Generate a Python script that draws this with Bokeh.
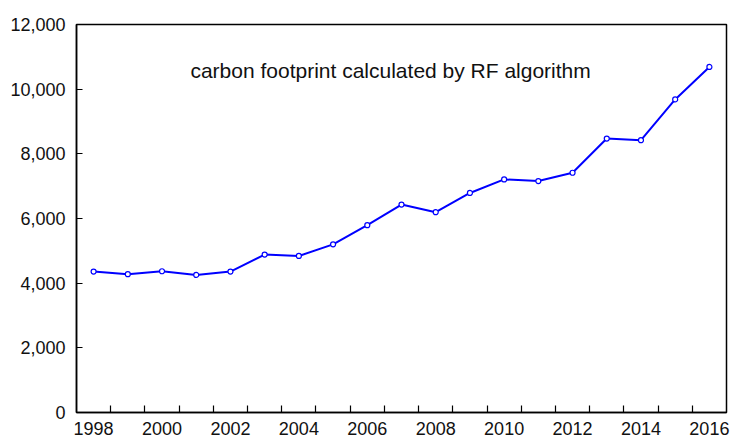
from bokeh.plotting import figure
from bokeh.models import FixedTicker, NumeralTickFormatter, Range1d, Label
from bokeh.embed import file_html
from bokeh.resources import INLINE

years = list(range(1998, 2017))
footprint = [4360, 4277, 4369, 4256, 4360, 4883, 4841, 5200, 5795, 6431,
             6195, 6790, 7210, 7159, 7415, 8472, 8421, 9683, 10687]
x_labels = list(range(1998, 2017, 2))
y_ticks = list(range(0, 12001, 2000))
year_bounds = [y + 0.5 for y in range(1998, 2016)]
series_name = "carbon footprint calculated by RF algorithm"

FONT = "Liberation Sans"

p = figure(width=730, height=437, output_backend="svg", toolbar_location=None,
           x_range=Range1d(1997.5, 2016.5), y_range=Range1d(0, 12000),
           min_border_left=76, min_border_right=4, min_border_top=24, min_border_bottom=23)

p.xgrid.visible = False
p.ygrid.visible = False
p.outline_line_color = "black"
p.outline_line_width = 1.5
p.outline_line_alpha = 1.0
p.background_fill_color = "white"
p.border_fill_color = "white"

p.line(years, footprint, line_color="#0000FF", line_width=2)
p.scatter(years, footprint, size=5, marker="circle", line_color="#0000FF",
          fill_color="white", line_width=1.2)

# x axis
xa = p.xaxis[0]
xa.ticker = FixedTicker(ticks=x_labels, minor_ticks=year_bounds)
xa.major_tick_in = 0
xa.major_tick_out = 0
xa.minor_tick_in = 7
xa.minor_tick_out = 0
xa.minor_tick_line_color = "black"
xa.minor_tick_line_width = 1.2
xa.axis_line_color = "black"
xa.axis_line_width = 1.5
xa.major_label_text_font = FONT
xa.major_label_text_font_size = "18px"
xa.major_label_text_color = "#111111"
xa.major_label_standoff = 9

# y axis
ya = p.yaxis[0]
ya.ticker = FixedTicker(ticks=y_ticks, minor_ticks=[])
ya.formatter = NumeralTickFormatter(format="0,0")
ya.major_tick_in = 6
ya.major_tick_out = 0
ya.minor_tick_in = 0
ya.minor_tick_out = 0
ya.major_tick_line_color = "black"
ya.major_tick_line_width = 1.2
ya.axis_line_color = "black"
ya.axis_line_width = 1.5
ya.major_label_text_font = FONT
ya.major_label_text_font_size = "18px"
ya.major_label_text_color = "#111111"
ya.major_label_standoff = 11

lbl = Label(x=2000.83, y=10585, text=series_name, text_font=FONT,
            text_font_size="21px", text_color="#111111",
            text_align="left", text_baseline="alphabetic")
p.add_layout(lbl)

open("out.html", "w").write(file_html(p, INLINE))
